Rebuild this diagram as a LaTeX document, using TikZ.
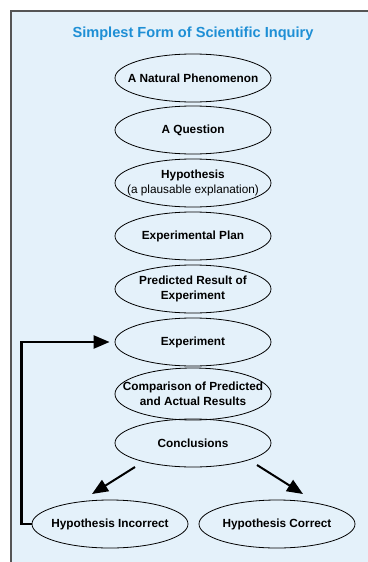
\documentclass[tikz,border=0pt]{standalone}
\usepackage{fontspec}
\setsansfont{Liberation Sans}
\usetikzlibrary{shapes.geometric,arrows.meta}
\definecolor{panelblue}{RGB}{228,241,250}
\definecolor{titleblue}{RGB}{30,143,213}
\definecolor{framegray}{RGB}{85,85,85}

\begin{document}
\begin{tikzpicture}[x=1pt,y=-1pt,
    stage/.style={draw,ellipse,line width=0.8pt,minimum width=156pt,minimum height=48pt,
      inner xsep=-16pt,inner ysep=0pt,align=center,
      font=\sffamily\bfseries\fontsize{11.8}{15}\selectfont},
    arr/.style={line width=2pt,-{Triangle[length=16pt,width=13pt]}}]
    \useasboundingbox (0,0) rectangle (367,562);
    \fill[panelblue] (11,11) rectangle (370,565);
    \draw[framegray,line width=1.5pt] (11,565)--(11,11)--(370,11);
    \node (title) at (193,34) {\sffamily\bfseries\fontsize{14.6}{16}\selectfont\textcolor{titleblue}{Simplest Form of Scientific Inquiry}};
    \node[stage] (phen) at (193,78) {A Natural Phenomenon};
    \node[stage] (quest) at (193,130) {A Question};
    \node[stage] (hyp) at (193,183) {Hypothesis\\{\mdseries(a plausable explanation)}};
    \node[stage] (plan) at (193,236) {Experimental Plan};
    \node[stage] (pred) at (193,289) {Predicted Result of\\Experiment};
    \node[stage] (exper) at (193,342) {Experiment};
    \node[stage,minimum height=52pt] (comp) at (193,394) {Comparison of Predicted\\and Actual Results};
    \node[stage] (concl) at (193,443) {Conclusions};
    \node[stage] (wrong) at (110,524) {Hypothesis Incorrect};
    \node[stage] (right) at (277,524) {Hypothesis Correct};
    \draw[arr] ([xshift=-58pt,yshift=-24pt]concl.center) -- ([xshift=-18pt,yshift=30pt]wrong.center);
    \draw[arr] ([xshift=64pt,yshift=-22pt]concl.center) -- ([xshift=26pt,yshift=30pt]right.center);
    \draw[arr,line width=2.3pt,shorten >=5pt] (wrong.west) -- ++(-10,0) |- (exper.west);
  \end{tikzpicture}
\end{document}
